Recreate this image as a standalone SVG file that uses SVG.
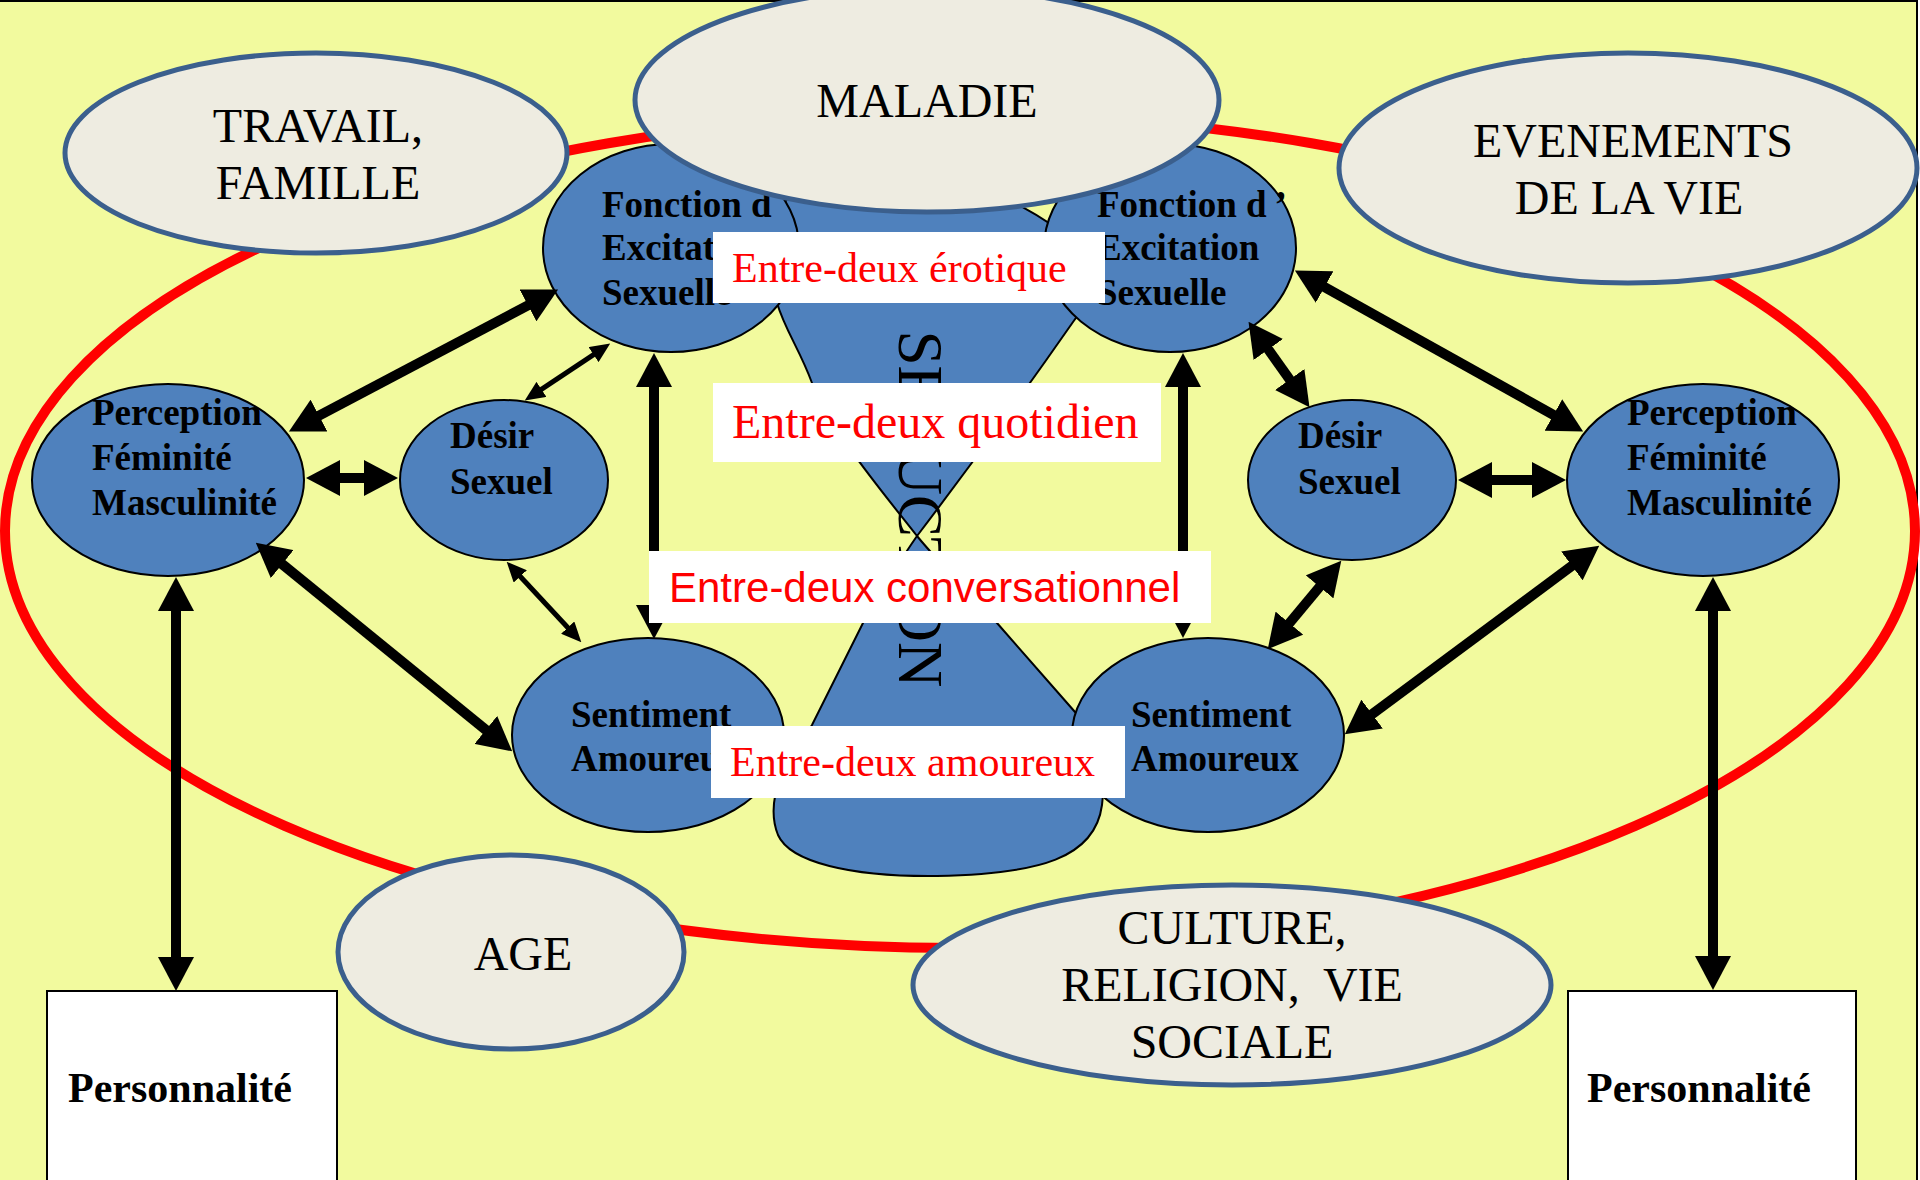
<svg xmlns="http://www.w3.org/2000/svg" width="1920" height="1180" viewBox="0 0 1920 1180">
<defs>
<style>
.bg{fill:#F2FA9E;stroke:#000;stroke-width:2}
.ring{fill:none;stroke:#FF0000;stroke-width:10}
.blue{fill:#4F81BD;stroke:#000;stroke-width:2}
.gray{fill:#EEECE1;stroke:#3B5F8D;stroke-width:5}
.box{fill:#FFFFFF;stroke:#000;stroke-width:2}
.lbl{fill:#FFFFFF;stroke:none}
.nt{font-family:"Liberation Serif","Times New Roman",serif;font-weight:bold;font-size:37px;fill:#000}
.gt{font-family:"Liberation Serif","Times New Roman",serif;font-size:48px;fill:#000;text-anchor:middle}
.pt{font-family:"Liberation Serif","Times New Roman",serif;font-weight:bold;font-size:42px;fill:#000}
.rt{font-family:"Liberation Serif","Times New Roman",serif;font-size:42px;fill:#FF0000}
.rq{font-family:"Liberation Serif","Times New Roman",serif;font-size:48px;fill:#FF0000}
.rs{font-family:"Liberation Sans",Arial,sans-serif;font-size:42px;fill:#FF0000}
.thick{stroke:#000;stroke-width:10;fill:none;marker-start:url(#hT);marker-end:url(#hT)}
.thin{stroke:#000;stroke-width:5;fill:none;marker-start:url(#hS);marker-end:url(#hS)}
</style>
<marker id="hT" markerUnits="userSpaceOnUse" viewBox="0 0 34 36" markerWidth="34" markerHeight="36" refX="1" refY="18" orient="auto-start-reverse"><path d="M0,0 L34,18 L0,36 Z" fill="#000"/></marker>
<marker id="hS" markerUnits="userSpaceOnUse" viewBox="0 0 20 18" markerWidth="20" markerHeight="18" refX="1" refY="9" orient="auto-start-reverse"><path d="M0,0 L20,9 L0,18 Z" fill="#000"/></marker>
</defs>

<rect class="bg" x="-5" y="1" width="1922" height="1200"/>
<ellipse class="ring" cx="960" cy="531" rx="955" ry="417"/>

<g id="seduction">
<path class="blue" d="M917,536 C885,495 830,430 812,383 C800,350 785,330 777,303 C765,260 770,220 790,195 L1000,195 C1030,210 1060,228 1085,250 C1105,275 1090,300 1073,322 C1050,355 990,440 917,536 Z"/>
<path class="blue" d="M917,536 C945,570 975,598 997,623 L1075,712 C1100,745 1106,775 1102,805 C1095,858 1040,874 937,876 C850,877 790,862 778,835 C768,810 776,780 792,755 L812,725 L863,623 C885,585 903,556 917,536 Z"/>
<text transform="translate(899,509) rotate(90)" text-anchor="middle" font-family="Liberation Serif, Times New Roman, serif" font-size="63" fill="#000">SEDUCTION</text>
</g>

<g id="fonction-l">
<ellipse class="blue" cx="671" cy="248" rx="128" ry="104"/>
<text class="nt" x="602" y="217">Fonction d</text>
<text class="nt" x="602" y="260">Excitation</text>
<text class="nt" x="602" y="305">Sexuelle</text>
</g>
<g id="fonction-r">
<ellipse class="blue" cx="1170" cy="248" rx="126" ry="104"/>
<text class="nt" x="1097" y="217">Fonction d<tspan dx="8">’</tspan></text>
<text class="nt" x="1097" y="260">Excitation</text>
<text class="nt" x="1097" y="305">Sexuelle</text>
</g>
<g id="perception-l">
<ellipse class="blue" cx="168" cy="480" rx="136" ry="96"/>
<text class="nt" x="92" y="425">Perception</text>
<text class="nt" x="92" y="470">Féminité</text>
<text class="nt" x="92" y="515">Masculinité</text>
</g>
<g id="perception-r">
<ellipse class="blue" cx="1703" cy="480" rx="136" ry="96"/>
<text class="nt" x="1627" y="425">Perception</text>
<text class="nt" x="1627" y="470">Féminité</text>
<text class="nt" x="1627" y="515">Masculinité</text>
</g>
<g id="desir-l">
<ellipse class="blue" cx="504" cy="480" rx="104" ry="80"/>
<text class="nt" x="450" y="448">Désir</text>
<text class="nt" x="450" y="494">Sexuel</text>
</g>
<g id="desir-r">
<ellipse class="blue" cx="1352" cy="480" rx="104" ry="80"/>
<text class="nt" x="1298" y="448">Désir</text>
<text class="nt" x="1298" y="494">Sexuel</text>
</g>
<g id="sentiment-l">
<ellipse class="blue" cx="648" cy="735" rx="136" ry="97"/>
<text class="nt" x="571" y="727">Sentiment</text>
<text class="nt" x="571" y="771">Amoureux</text>
</g>
<g id="sentiment-r">
<ellipse class="blue" cx="1208" cy="735" rx="136" ry="97"/>
<text class="nt" x="1131" y="727">Sentiment</text>
<text class="nt" x="1131" y="771">Amoureux</text>
</g>
<g id="personnalite-l">
<rect class="box" x="47" y="991" width="290" height="200"/>
<text class="pt" x="68" y="1102">Personnalité</text>
</g>
<g id="personnalite-r">
<rect class="box" x="1568" y="991" width="288" height="200"/>
<text class="pt" x="1587" y="1102">Personnalité</text>
</g>

<g id="connectors">
<line class="thick" x1="318.1" y1="416.1" x2="528.9" y2="304.9"/>
<line class="thick" x1="339" y1="478" x2="365" y2="478"/>
<line class="thin" x1="540.6" y1="389.9" x2="594.4" y2="354.1"/>
<line class="thick" x1="654" y1="386" x2="654" y2="606"/>
<line class="thin" x1="519.6" y1="575.7" x2="568.4" y2="628.3"/>
<line class="thick" x1="281.4" y1="563.5" x2="486.6" y2="730.5"/>
<line class="thick" x1="176" y1="610" x2="176" y2="958"/>
<line class="thick" x1="1323.7" y1="286.6" x2="1554.3" y2="415.4"/>
<line class="thick" x1="1491" y1="480" x2="1533" y2="480"/>
<line class="thick" x1="1267.7" y1="348.7" x2="1290.3" y2="380.3"/>
<line class="thick" x1="1320.2" y1="586.1" x2="1288.8" y2="623.9"/>
<line class="thick" x1="1183" y1="386" x2="1183" y2="605"/>
<line class="thick" x1="1572.7" y1="565.3" x2="1371.3" y2="714.7"/>
<line class="thick" x1="1713" y1="610" x2="1713" y2="957"/>
</g>

<g id="travail">
<ellipse class="gray" cx="316" cy="153" rx="251" ry="100"/>
<text class="gt" x="318" y="142">TRAVAIL,</text>
<text class="gt" x="318" y="199">FAMILLE</text>
</g>
<g id="maladie">
<ellipse class="gray" cx="927" cy="100" rx="292" ry="112"/>
<text class="gt" x="927" y="117">MALADIE</text>
</g>
<g id="evenements">
<ellipse class="gray" cx="1628" cy="168" rx="289" ry="115"/>
<text class="gt" x="1633" y="157">EVENEMENTS</text>
<text class="gt" x="1629" y="214">DE LA VIE</text>
</g>
<g id="age">
<ellipse class="gray" cx="511" cy="952" rx="173" ry="97"/>
<text class="gt" x="523" y="970">AGE</text>
</g>
<g id="culture">
<ellipse class="gray" cx="1232" cy="985" rx="319" ry="100"/>
<text class="gt" x="1232" y="944">CULTURE,</text>
<text class="gt" x="1232" y="1001" xml:space="preserve">RELIGION,  VIE</text>
<text class="gt" x="1232" y="1058">SOCIALE</text>
</g>

<g id="entre-deux-erotique">
<rect class="lbl" x="713" y="232" width="392" height="71"/>
<text class="rt" x="732" y="282">Entre-deux érotique</text>
</g>
<g id="entre-deux-quotidien">
<rect class="lbl" x="713" y="383" width="448" height="79"/>
<text class="rq" x="732" y="438">Entre-deux quotidien</text>
</g>
<g id="entre-deux-conversationnel">
<rect class="lbl" x="649" y="551" width="562" height="72"/>
<text class="rs" x="669" y="602">Entre-deux conversationnel</text>
</g>
<g id="entre-deux-amoureux">
<rect class="lbl" x="711" y="726" width="414" height="72"/>
<text class="rt" x="730" y="776">Entre-deux amoureux</text>
</g>
</svg>
